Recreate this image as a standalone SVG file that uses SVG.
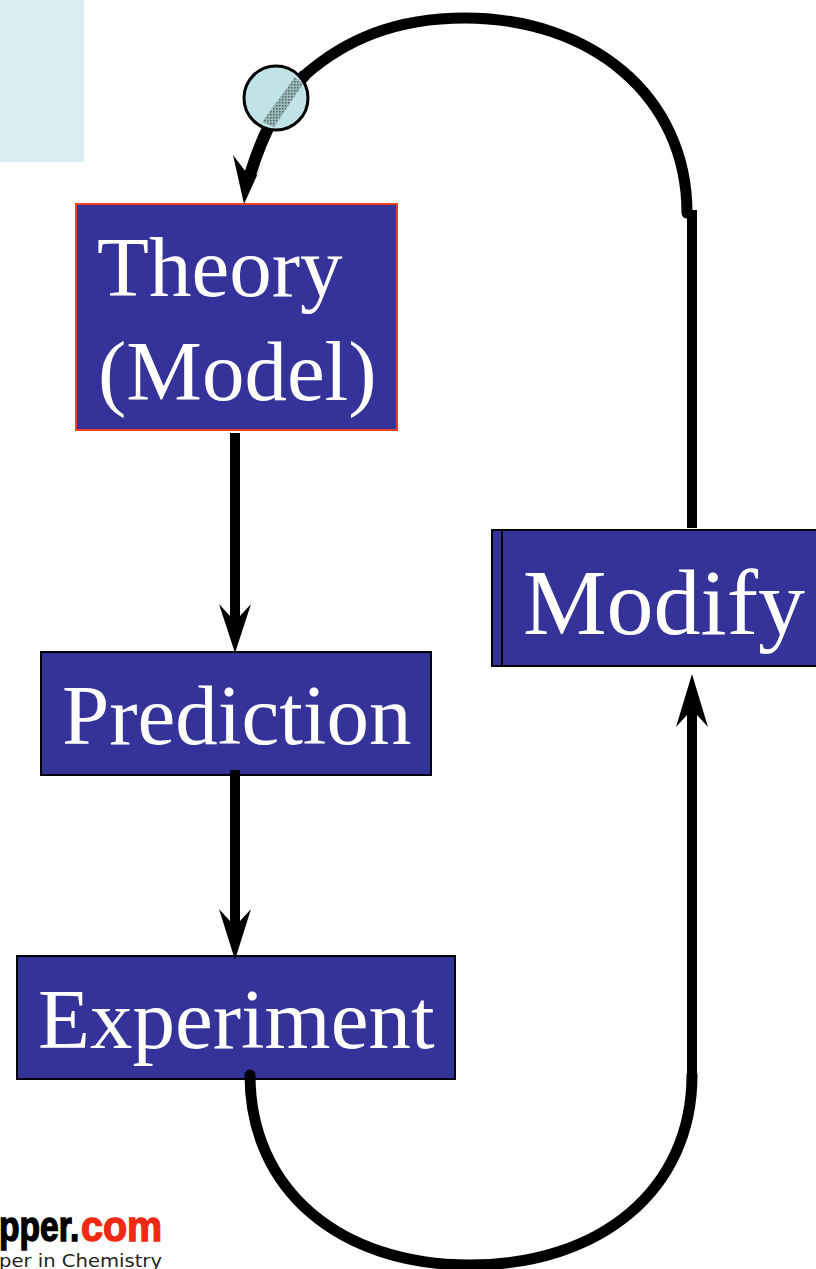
<svg xmlns="http://www.w3.org/2000/svg" width="816" height="1269" viewBox="0 0 816 1269">
<style>
.box{fill:#333399;stroke:#000;stroke-width:2}
.lbl{font-family:"Liberation Serif","Times New Roman",serif;fill:#fff;font-size:85px}
.ln{fill:none;stroke:#000;stroke-width:10}
.arc{stroke-width:11}
.head{fill:#000}
.logo{font-family:"Liberation Sans",Arial,sans-serif;font-weight:700;font-size:42px;stroke-width:1.4}
</style>
<defs>
<pattern id="hatch" width="3" height="3" patternUnits="userSpaceOnUse"><rect width="3" height="3" fill="#9db8ba"/><rect width="1.5" height="1.5" fill="#4d6668"/></pattern>
</defs>
<rect width="816" height="1269" fill="#fff"/>
<rect id="panel" x="0" y="0" width="84" height="162" fill="#d9eef2"/>
<g id="theory">
<rect x="76" y="204" width="321" height="226" fill="#333399" stroke="#ea4020" stroke-width="2"/>
<text class="lbl" x="97" y="296">Theory</text>
<text class="lbl" x="98" y="400">(Model)</text>
</g>
<g id="prediction">
<rect class="box" x="41" y="652" width="390" height="123"/>
<text class="lbl" x="62" y="744">Prediction</text>
</g>
<g id="experiment">
<rect class="box" x="17" y="956" width="438" height="123"/>
<text class="lbl" x="38" y="1048">Experiment</text>
</g>
<g id="modify">
<rect class="box" x="492" y="530" width="330" height="136"/>
<path d="M502 530V666" stroke="#000" stroke-width="2"/>
<text class="lbl" x="523" y="634" style="font-size:94px">Modify</text>
</g>
<g id="connectors">
<path class="ln" d="M235 433V635"/>
<path class="head" d="M235 653L219 604L230 616H240L251 604Z"/>
<path class="ln" d="M235 770V940"/>
<path class="head" d="M235 960L219 909L230 921H240L251 909Z"/>
<path class="ln" d="M692 528V210"/>
<path class="ln arc" stroke-linecap="round" d="M687 213C687 95 590 18 465 18C395 18 345 40 305 75"/>
<path class="ln" style="stroke-width:12" d="M305 75C285 95 265 125 250 175"/>
<path class="head" d="M244 204L233 155L246 172L257 175L265 158Z"/>
<path class="ln" d="M692 1075V700"/>
<path class="head" d="M692 674L676 727L687 715H697L708 727Z"/>
<path class="ln arc" stroke-linecap="round" d="M250 1075C250 1190 340 1265 470 1265C600 1265 692 1190 692 1075"/>
</g>
<g id="lens">
<circle cx="276" cy="98" r="32" fill="#bfe3e6" stroke="#000" stroke-width="3"/>
<path d="M295 77L303 84L274 127L262 122Z" fill="url(#hatch)"/>
</g>
<g id="logo">
<text class="logo" transform="translate(-1 1241) scale(.8 1)" fill="#000" stroke="#000">pper.</text>
<text class="logo" transform="translate(81 1241) scale(.94 1)" fill="#f02a12" stroke="#f02a12">com</text>
<text x="-1" y="1267" font-family="DejaVu Sans,sans-serif" font-size="18" textLength="163" lengthAdjust="spacingAndGlyphs" fill="#222">per in Chemistry</text>
</g>
</svg>
